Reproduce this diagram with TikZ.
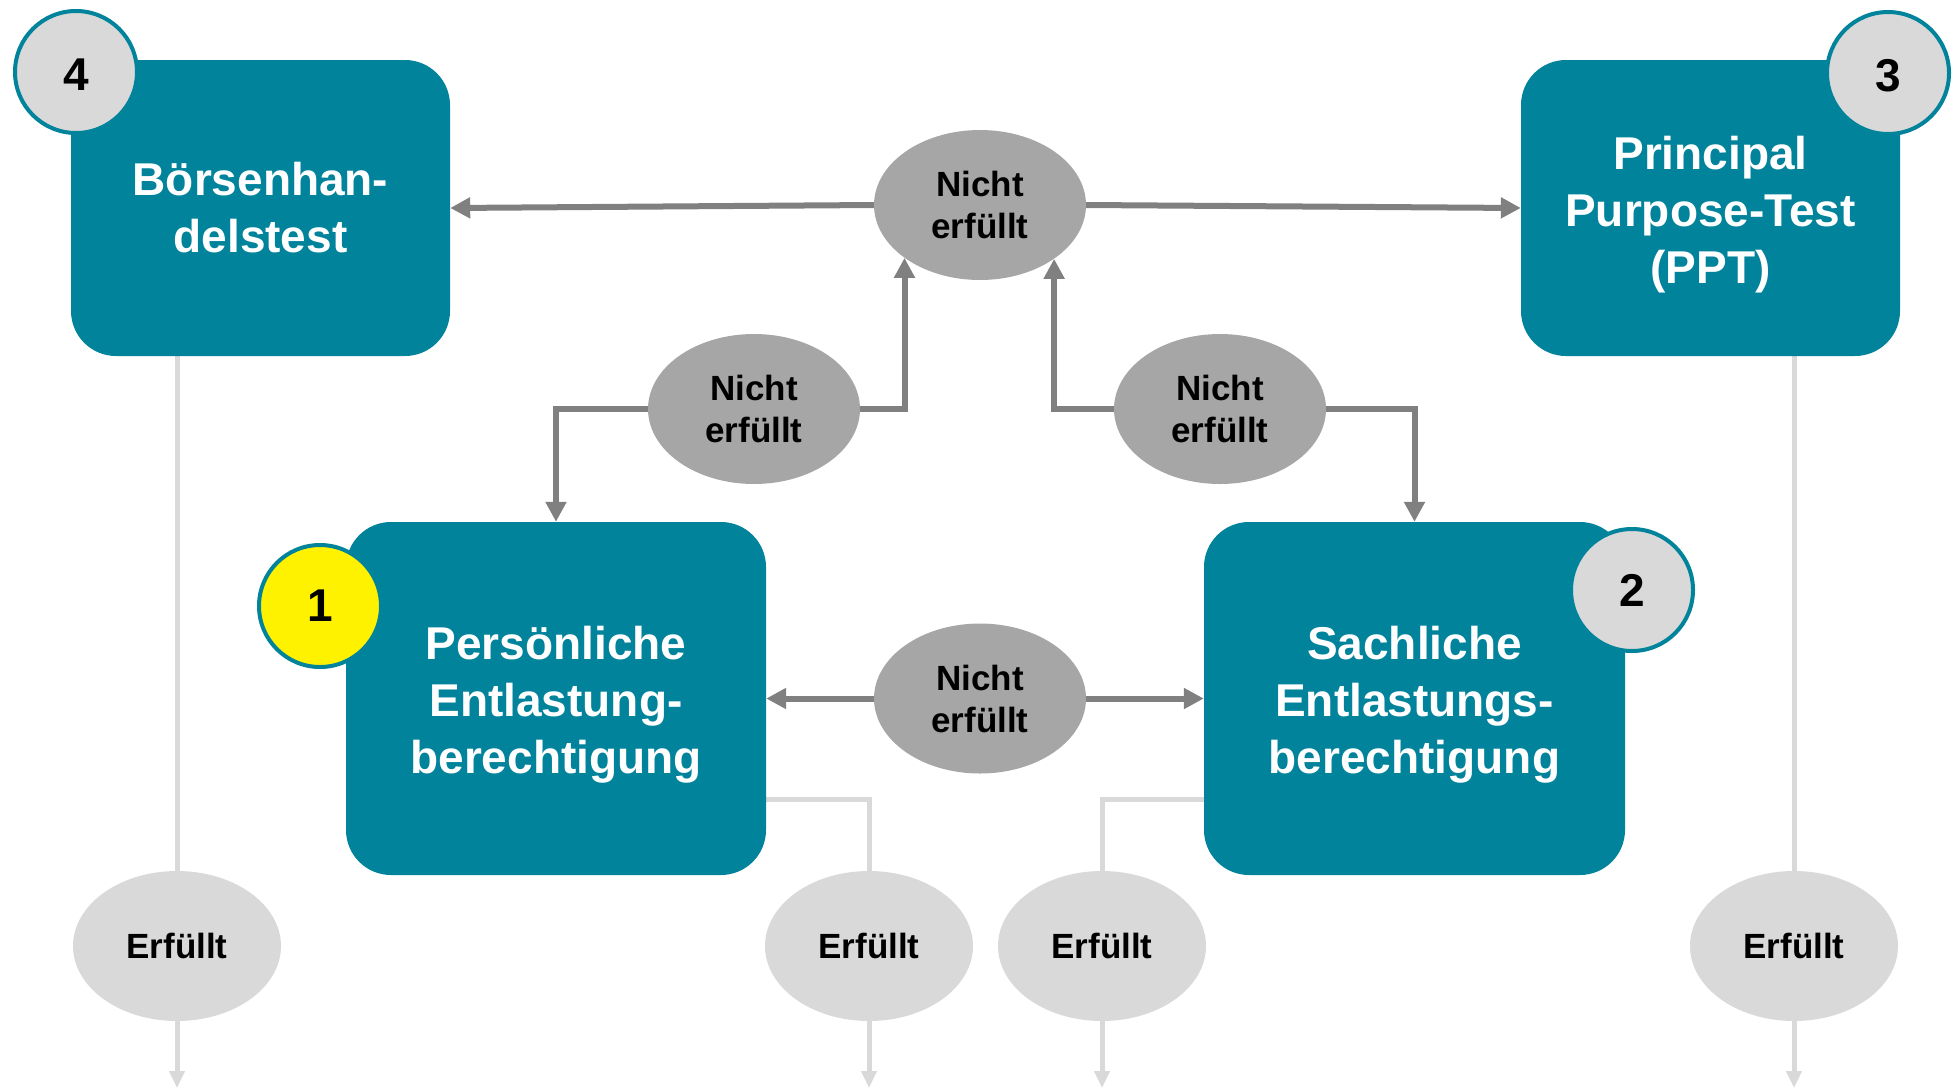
\documentclass[tikz,border=0pt]{standalone}
\usepackage{fontspec}
\setmainfont{Liberation Sans}
\usetikzlibrary{arrows.meta,shapes.geometric}
\definecolor{teal1}{RGB}{0,131,155}
\definecolor{dgrey}{RGB}{166,166,166}
\definecolor{lgrey}{RGB}{217,217,217}
\definecolor{agrey}{RGB}{128,128,128}
\newcommand{\boxstrut}{\rule{0pt}{46pt}}
\newcommand{\lowdigit}[1]{\raisebox{-3pt}[\height][\depth]{#1}}
\begin{document}
\begin{tikzpicture}[x=1pt,y=-1pt,
  box/.style={draw=none, fill=teal1, rounded corners=45pt, text=white,
    font=\bfseries\fontsize{46}{57}\selectfont, align=center, inner sep=0pt},
  numc/.style={circle, draw=teal1, line width=4pt, fill=lgrey, minimum size=122pt,
    inner sep=0pt, font=\bfseries\fontsize{46}{46}\selectfont},
  nf/.style={ellipse, fill=dgrey, minimum width=212pt, minimum height=150pt,
    inner sep=0pt, align=center, font=\bfseries\fontsize{35}{42}\selectfont},
  ef/.style={ellipse, fill=lgrey, minimum width=208pt, minimum height=150pt,
    inner sep=0pt, align=center, font=\bfseries\fontsize{35}{42}\selectfont},
  arr/.style={draw=agrey, line width=6pt, -{Triangle[length=20pt,width=20pt]}},
  lt/.style={draw=lgrey, line width=5pt},
  ltarr/.style={lt, -{Triangle[length=17pt,width=15pt]}}
]
\useasboundingbox (0,0) rectangle (1960,1088);

% ellipses
\node[nf] (top) at (980,205) {Nicht\\erfüllt};
\node[nf] (lm) at (754,409) {Nicht\\erfüllt};
\node[nf] (rm) at (1220,409) {Nicht\\erfüllt};
\node[nf] (bm) at (980,698.5) {Nicht\\erfüllt};
\node[ef] (e1) at (177,946) {Erfüllt};
\node[ef] (e2) at (869,946) {Erfüllt};
\node[ef] (e3) at (1102,946) {Erfüllt};
\node[ef] (e4) at (1794,946) {Erfüllt};

% light connectors (behind boxes)
\coordinate (l1) at (760,799);
\coordinate (l2) at (1210,799);
\coordinate (o1) at (177,1088);
\coordinate (o2) at (869,1088);
\coordinate (o3) at (1102,1088);
\coordinate (o4) at (1794,1088);
\draw[lt] (e1 |- 0,340) -- (e1);
\draw[lt] (e4 |- 0,340) -- (e4);
\draw[lt] (l1) -| (e2);
\draw[lt] (l2) -| (e3);
\draw[ltarr] (e1) -- (o1);
\draw[ltarr] (e2) -- (o2);
\draw[ltarr] (e3) -- (o3);
\draw[ltarr] (e4) -- (o4);

% boxes
\node[box, minimum width=379pt, minimum height=296pt] (b4) at (260.5,208) {Börsenhan-\\delstest};
\node[box, minimum width=379pt, minimum height=296pt] (b3) at (1710.5,208) {\boxstrut Principal\\Purpose-Test\\(PPT)};
\node[box, minimum width=420pt, minimum height=353pt] (b1) at (556,698.5) {\boxstrut Persönliche\\Entlastung-\\berechtigung};
\node[box, minimum width=421pt, minimum height=353pt] (b2) at (1414.5,698.5) {\boxstrut Sachliche\\Entlastungs-\\berechtigung};

% number circles
\node[numc] (n4) at (76,72) {\lowdigit{4}};
\node[numc] (n3) at (1888,73) {\lowdigit{3}};
\node[numc, fill=yellow] (n1) at (320,606) {1};
\node[numc] (n2) at (1632,590) {2};

% dark connectors
\draw[arr] (top.west) -- (b4.east);
\draw[arr] (top.east) -- (b3.west);
\draw[arr] (lm.east) -| (top.215.25);
\draw[arr] (rm.west) -| (top.324.75);
\draw[arr] (lm.west) -| (b1.north);
\draw[arr] (rm.east) -| (b2.north);
\draw[arr] (bm.west) -- (b1.east);
\draw[arr] (bm.east) -- (b2.west);
\end{tikzpicture}
\end{document}
